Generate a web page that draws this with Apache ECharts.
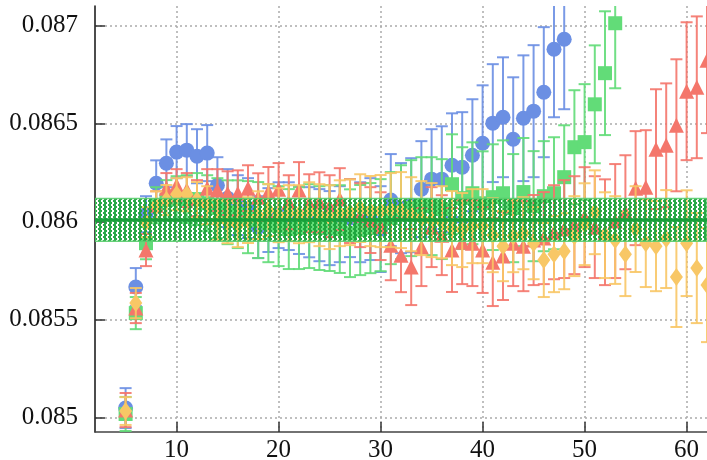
<!DOCTYPE html>
<html>
<head>
<meta charset="utf-8">
<script src="https://cdn.jsdelivr.net/npm/echarts@6/dist/echarts.min.js"></script>
<style>
  html, body { margin: 0; padding: 0; background: #fff; }
  #chart { width: 707px; height: 460px; }
</style>
</head>
<body>
<div id="chart"></div>
<script>
// Time slices
const times = [5,6,7,8,9,10,11,12,13,14,15,16,17,18,19,20,21,22,23,24,25,26,27,28,29,30,
  31,32,33,34,35,36,37,38,39,40,41,42,43,44,45,46,47,48,49,50,51,52,53,54,55,56,57,58,59,60,61,62];

// Operator 1 (circles), t = 5..48
const blueVal = [0.085047,0.085665,0.086037,0.086195,0.086297,0.086354,0.086364,0.086333,0.086349,0.086185,
  0.086119,0.086083,0.086068,0.085971,0.086007,0.086032,0.086027,0.086007,0.085996,0.085981,
  0.085966,0.085986,0.086017,0.085996,0.086012,0.085961,0.086109,0.086068,0.086083,0.086165,
  0.086216,0.086216,0.086287,0.086277,0.086338,0.086399,0.086502,0.086532,0.086420,0.086527,
  0.086563,0.086660,0.086879,0.086930];
const blueErr = [0.000102,0.000097,0.000092,0.000117,0.000122,0.000133,0.000133,0.000138,0.000143,0.000143,
  0.000148,0.000153,0.000153,0.000158,0.000163,0.000168,0.000173,0.000173,0.000179,0.000184,
  0.000189,0.000194,0.000199,0.000204,0.000209,0.000219,0.000235,0.000230,0.000240,0.000245,
  0.000255,0.000270,0.000265,0.000281,0.000286,0.000296,0.000301,0.000306,0.000316,0.000321,
  0.000337,0.000332,0.000347,0.000357];

// Operator 2 (squares), t = 5..53
const greenVal = [0.085017,0.085532,0.085889,0.086083,0.086109,0.086119,0.086114,0.086114,0.086093,0.086068,
  0.086047,0.086037,0.086022,0.086007,0.085991,0.085976,0.085961,0.085966,0.085976,0.085966,
  0.085966,0.085961,0.085940,0.085956,0.085966,0.085981,0.086017,0.086047,0.086068,0.086083,
  0.086078,0.086063,0.086190,0.086119,0.086144,0.086093,0.086124,0.086144,0.086068,0.086150,
  0.086078,0.086129,0.086144,0.086226,0.086379,0.086405,0.086598,0.086757,0.087012];
const greenErr = [0.000087,0.000082,0.000082,0.000092,0.000102,0.000112,0.000122,0.000133,0.000143,0.000153,
  0.000163,0.000173,0.000184,0.000194,0.000199,0.000204,0.000204,0.000209,0.000214,0.000214,
  0.000219,0.000224,0.000224,0.000230,0.000230,0.000235,0.000235,0.000240,0.000245,0.000245,
  0.000250,0.000255,0.000255,0.000260,0.000260,0.000265,0.000270,0.000270,0.000276,0.000276,
  0.000281,0.000281,0.000286,0.000265,0.000291,0.000296,0.000301,0.000316,0.000332];

// Operator 3 (triangles), t = 5..62
const redVal = [0.085037,0.085558,0.085854,0.086083,0.086170,0.086185,0.086160,0.086119,0.086170,0.086160,
  0.086144,0.086144,0.086170,0.086124,0.086150,0.086165,0.086098,0.086160,0.086093,0.086098,
  0.086078,0.086114,0.086053,0.086032,0.086007,0.085976,0.085879,0.085828,0.085767,0.085869,
  0.085971,0.085930,0.085854,0.085894,0.085889,0.085854,0.085792,0.085823,0.085889,0.085874,
  0.085905,0.085915,0.085945,0.085961,0.085981,0.086022,0.085971,0.085945,0.086002,0.086047,
  0.086170,0.086175,0.086369,0.086389,0.086491,0.086665,0.086685,0.086823];
const redErr = [0.000087,0.000077,0.000082,0.000071,0.000077,0.000082,0.000087,0.000092,0.000097,0.000107,
  0.000112,0.000117,0.000117,0.000122,0.000128,0.000133,0.000138,0.000143,0.000148,0.000153,
  0.000158,0.000158,0.000163,0.000163,0.000168,0.000173,0.000179,0.000189,0.000194,0.000199,
  0.000204,0.000204,0.000214,0.000214,0.000219,0.000219,0.000224,0.000224,0.000219,0.000230,
  0.000230,0.000235,0.000240,0.000250,0.000250,0.000255,0.000260,0.000270,0.000291,0.000291,
  0.000291,0.000291,0.000306,0.000316,0.000337,0.000352,0.000362,0.000372];

// Operator 4 (diamonds), t = 5..62
const orangeVal = [0.085032,0.085583,0.085996,0.086083,0.086109,0.086139,0.086139,0.086109,0.086083,0.086007,
  0.085996,0.085981,0.086007,0.086032,0.086058,0.086032,0.086042,0.086037,0.086047,0.086032,
  0.086022,0.086042,0.086047,0.086068,0.086053,0.086053,0.086058,0.086058,0.086037,0.086017,
  0.086007,0.085996,0.085966,0.085956,0.085976,0.085976,0.085930,0.085874,0.085925,0.085940,
  0.085889,0.085803,0.085833,0.085848,0.085925,0.085986,0.086047,0.085930,0.085905,0.085833,
  0.085961,0.085889,0.085874,0.085910,0.085716,0.085889,0.085762,0.085675];
const orangeErr = [0.000071,0.000077,0.000077,0.000071,0.000077,0.000082,0.000087,0.000092,0.000097,0.000102,
  0.000107,0.000112,0.000117,0.000122,0.000133,0.000138,0.000143,0.000148,0.000153,0.000158,
  0.000163,0.000168,0.000168,0.000173,0.000179,0.000184,0.000189,0.000194,0.000189,0.000189,
  0.000189,0.000184,0.000189,0.000189,0.000189,0.000189,0.000189,0.000179,0.000184,0.000184,
  0.000184,0.000189,0.000194,0.000194,0.000204,0.000209,0.000214,0.000219,0.000224,0.000214,
  0.000219,0.000224,0.000230,0.000250,0.000255,0.000270,0.000281,0.000291];

// Constant fit: central value, uncertainty and fit window
const fitValue = 0.086008;
const fitError = 0.000109;
const fitRange = [2, 62];

// Axis ticks
const xTicks = [10, 20, 30, 40, 50, 60];
const yTicks = [0.085, 0.0855, 0.086, 0.0865, 0.087];
const yTickLabels = ['0.085', '0.0855', '0.086', '0.0865', '0.087'];

const FONT = '"Liberation Serif", "DejaVu Serif", serif';

function toPoints(vals, errs) {
  const out = [];
  vals.forEach((v, i) => { if (v != null) out.push([times[i], v, errs[i]]); });
  return out;
}

function errorBars(data, color, z) {
  return {
    type: 'custom',
    data: data,
    clip: true,
    z: z,
    silent: true,
    encode: { x: 0, y: 1 },
    renderItem: function (params, api) {
      const x = api.value(0), v = api.value(1), e = api.value(2);
      const top = api.coord([x, v + e]);
      const bot = api.coord([x, v - e]);
      const w = 6;
      const st = { stroke: color, lineWidth: 2 };
      return {
        type: 'group',
        children: [
          { type: 'line', shape: { x1: top[0], y1: top[1], x2: bot[0], y2: bot[1] }, style: st },
          { type: 'line', shape: { x1: top[0] - w, y1: top[1], x2: top[0] + w, y2: top[1] }, style: st },
          { type: 'line', shape: { x1: bot[0] - w, y1: bot[1], x2: bot[0] + w, y2: bot[1] }, style: st }
        ]
      };
    }
  };
}

function markers(data, color, symbol, size, z) {
  return {
    type: 'scatter',
    data: data.map(d => [d[0], d[1]]),
    symbol: symbol,
    symbolSize: size,
    itemStyle: { color: color, opacity: 1 },
    clip: true,
    z: z,
    silent: true
  };
}

// Hatched fill for the fit band: dark green columns with a zigzag of open cells
const pat = document.createElement('canvas');
pat.width = 5; pat.height = 4;
const pg = pat.getContext('2d');
pg.fillStyle = 'rgba(24,162,56,0.92)';
pg.fillRect(0, 0, 5, 4);
pg.clearRect(1, 0, 2, 2);
pg.clearRect(2, 2, 2, 2);

const blue = toPoints(blueVal, blueErr);
const green = toPoints(greenVal, greenErr);
const red = toPoints(redVal, redErr);
const orange = toPoints(orangeVal, orangeErr);

const C_BLUE = '#6b8fe3', C_GREEN = '#62dc78', C_RED = '#f4766b', C_ORANGE = '#f8c766';

const chart = echarts.init(document.getElementById('chart'), null, { renderer: 'canvas' });
chart.setOption({
  animation: false,
  backgroundColor: '#fff',
  grid: { left: 95, right: 0, top: 6, bottom: 28, containLabel: false, outerBoundsMode: 'none' },
  xAxis: {
    type: 'value', min: 2, max: 62,
    axisLine: { show: true, lineStyle: { color: '#444', width: 1.5 } },
    axisTick: { show: true, inside: true, length: 10, customValues: xTicks, lineStyle: { color: '#333', width: 1.5 } },
    axisLabel: { customValues: xTicks, fontFamily: FONT, fontSize: 25, color: '#111', margin: 6 },
    splitLine: { show: true, lineStyle: { color: '#aaa', width: 1.5, type: [2, 3] } }
  },
  yAxis: {
    type: 'value', min: 0.084925, max: 0.0871,
    axisLine: { show: true, lineStyle: { color: '#111', width: 1.5 } },
    axisTick: { show: true, inside: true, length: 10, customValues: yTicks, lineStyle: { color: '#333', width: 1.5 } },
    axisLabel: {
      customValues: yTicks, fontFamily: FONT, fontSize: 25, color: '#111', margin: 17,
      formatter: function (v) {
        let best = 0;
        yTicks.forEach((t, i) => { if (Math.abs(t - v) < Math.abs(yTicks[best] - v)) best = i; });
        return yTickLabels[best];
      }
    },
    splitLine: { show: true, lineStyle: { color: '#aaa', width: 1.5, type: [2, 3] } }
  },
  series: [
    errorBars(blue, 'rgba(107,143,227,0.9)', 2), markers(blue, C_BLUE, 'circle', 15, 2),
    errorBars(green, 'rgba(98,220,120,0.9)', 3), markers(green, C_GREEN, 'rect', 14, 3),
    errorBars(red, 'rgba(244,118,107,0.9)', 4), markers(red, C_RED, 'triangle', 15, 4),
    errorBars(orange, 'rgba(248,199,102,0.9)', 5), markers(orange, C_ORANGE, 'diamond', [13, 18], 5),
    {
      type: 'custom',
      data: [[fitRange[0], fitRange[1]]],
      clip: true,
      z: 10,
      silent: true,
      renderItem: function (params, api) {
        const a = api.coord([api.value(0), fitValue + fitError]);
        const b = api.coord([api.value(1), fitValue - fitError]);
        const c = api.coord([api.value(0), fitValue]);
        return {
          type: 'group',
          children: [
            { type: 'rect', shape: { x: a[0], y: a[1], width: b[0] - a[0], height: b[1] - a[1] },
              style: { fill: { image: pat, repeat: 'repeat' }, stroke: 'rgba(90,205,110,0.9)', lineWidth: 1.5 } },
            { type: 'line', shape: { x1: a[0], y1: c[1], x2: b[0], y2: c[1] },
              style: { stroke: '#17a03a', lineWidth: 3.5 } }
          ]
        };
      }
    }
  ]
});
</script>
</body>
</html>
